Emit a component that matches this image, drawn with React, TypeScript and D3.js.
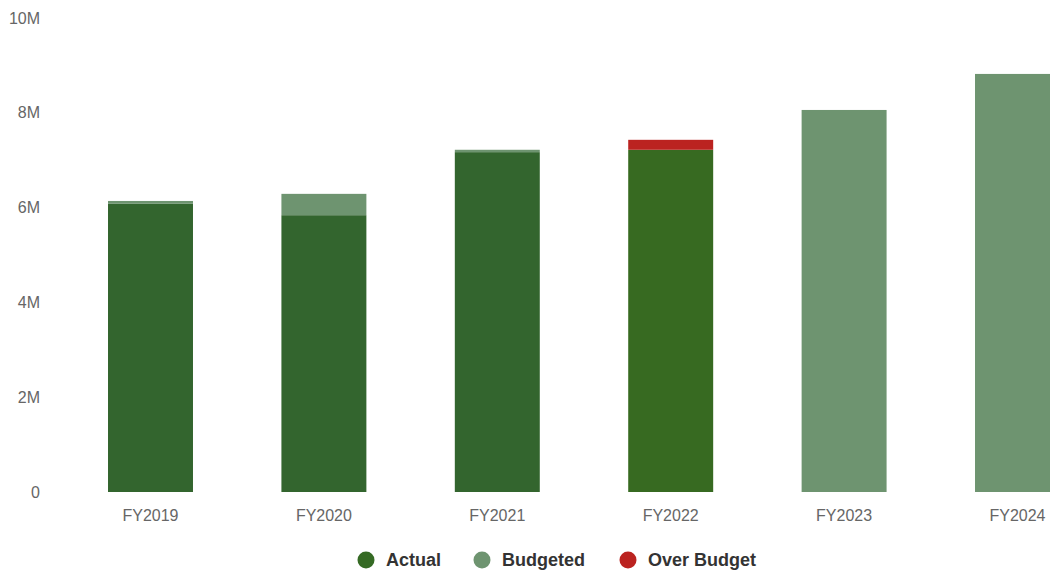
import React from "react";
import * as d3 from "d3";

const categories = ["FY2019", "FY2020", "FY2021", "FY2022", "FY2023", "FY2024"];
const actualValues: (number | null)[] = [6.08, 5.84, 7.17, 7.43, null, null];
const budgetValues = [6.14, 6.29, 7.22, 7.22, 8.06, 8.82];
const yTicks = [0, 2, 4, 6, 8, 10];
const legendItems = ["Actual", "Budgeted", "Over Budget"];

const W = 1050;
const H = 574;
const COL_ACTUAL = "#33652e";
const COL_ACTUAL_OVER = "#376a21";
const COL_BUDGET = "#6e9470";
const COL_OVER = "#bb2320";
const legendColors = ["#356a24", COL_BUDGET, COL_OVER];

export default function App() {
  const x = d3
    .scaleBand<string>()
    .domain(categories)
    .range([63.8, 1104.2])
    .paddingInner(0.51)
    .paddingOuter(0.255);
  const y = d3.scaleLinear().domain([0, 10]).range([492, 18]);
  const bw = x.bandwidth();

  const segs: { key: string; x: number; y0: number; y1: number; fill: string }[] = [];
  categories.forEach((c, i) => {
    const a = actualValues[i];
    const b = budgetValues[i];
    const bx = x(c)!;
    if (a == null) {
      segs.push({ key: c + "b", x: bx, y0: 0, y1: b, fill: COL_BUDGET });
    } else if (a <= b) {
      segs.push({ key: c + "a", x: bx, y0: 0, y1: a, fill: COL_ACTUAL });
      segs.push({ key: c + "b", x: bx, y0: a, y1: b, fill: COL_BUDGET });
    } else {
      segs.push({ key: c + "a", x: bx, y0: 0, y1: b, fill: COL_ACTUAL_OVER });
      segs.push({ key: c + "o", x: bx, y0: b, y1: a, fill: COL_OVER });
    }
  });

  const legendX = [366, 482, 628];

  return (
    <svg
      width={W}
      height={H}
      style={{ position: "fixed", left: 0, top: 0, overflow: "hidden", fontFamily: "'Liberation Sans', Arial, sans-serif" }}
    >
      <rect width={W} height={H} fill="#fff" />
      {yTicks.map((t) => (
        <text key={t} x={40} y={y(t)} dy="0.35em" textAnchor="end" fontSize={16} fill="#666">
          {t === 0 ? "0" : `${t}M`}
        </text>
      ))}
      {segs.map((s) => (
        <rect
          key={s.key}
          x={s.x}
          width={bw}
          y={y(s.y1)}
          height={y(s.y0) - y(s.y1)}
          fill={s.fill}
        />
      ))}
      {categories.map((c) => (
        <text key={c} x={x(c)! + bw / 2} y={515} dy="0.35em" textAnchor="middle" fontSize={16} fill="#666">
          {c}
        </text>
      ))}
      {legendItems.map((l, i) => (
        <g key={l} transform={`translate(${legendX[i]},560)`}>
          <circle r={8.5} fill={legendColors[i]} />
          <text x={20} dy="0.35em" fontSize={18} fontWeight="bold" fill="#333">
            {l}
          </text>
        </g>
      ))}
    </svg>
  );
}
